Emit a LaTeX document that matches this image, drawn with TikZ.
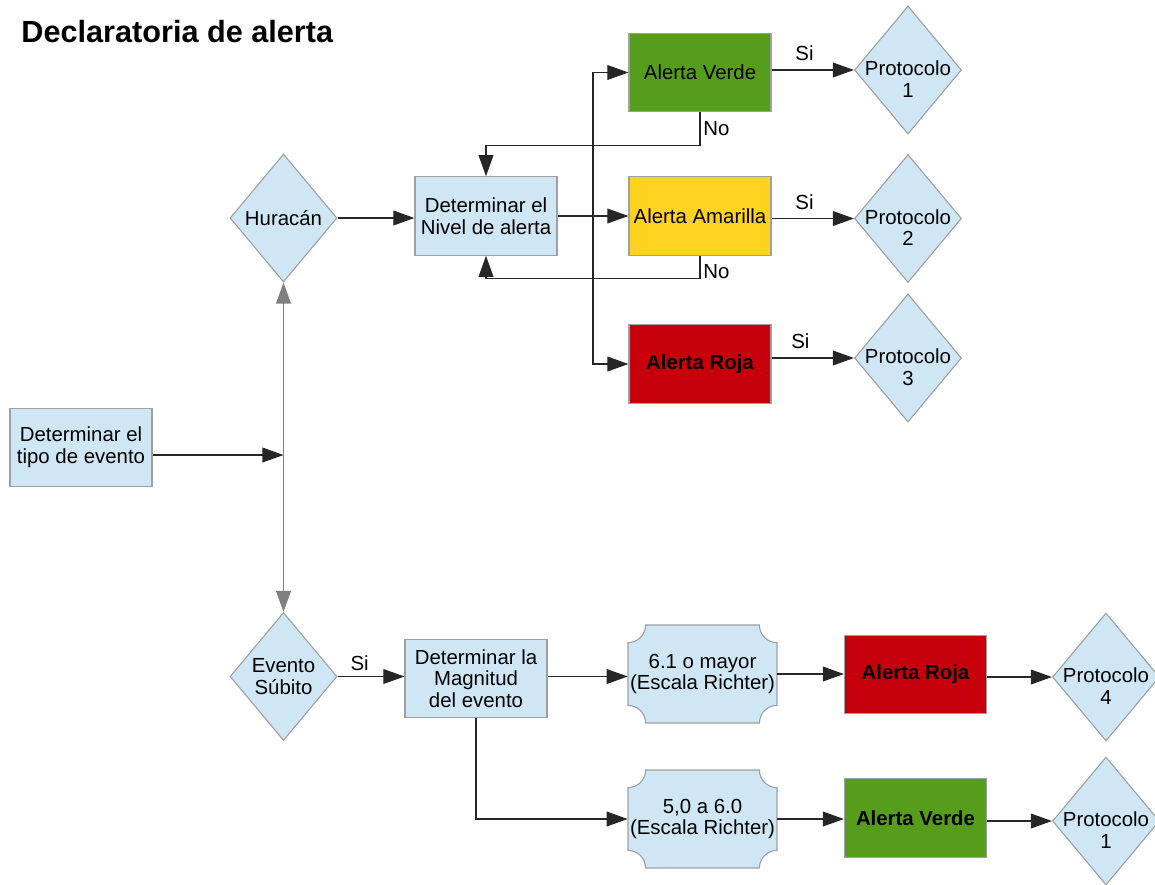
\documentclass[tikz,border=0pt]{standalone}
\usepackage{fontspec}
\setmainfont{Liberation Sans}
\usetikzlibrary{shapes.geometric,arrows.meta}
\definecolor{boxblue}{HTML}{CFE7F5}
\definecolor{edgegray}{HTML}{A0A0A0}
\definecolor{linkgray}{HTML}{808080}
\definecolor{alertgreen}{HTML}{579D1C}
\definecolor{alertyellow}{HTML}{FFD320}
\definecolor{alertred}{HTML}{C5000B}
\newcommand{\chartfont}{\fontsize{14.5}{15.4}\selectfont}
\tikzset{my box/.style={draw=edgegray, line width=0.8pt, fill=boxblue, minimum width=3.55cm, minimum height=1.96cm, align=center, inner sep=1pt},}
\tikzset{my diamond/.style={draw=edgegray, line width=0.8pt, fill=boxblue, diamond, minimum width=2.675cm, minimum height=3.2cm, inner sep=0pt},}
\tikzset{my protocol/.style={my diamond, label={[align=center, yshift=-0.23cm]center:Protocolo\\#1}},}
\tikzset{my link/.style={draw=black!85, line width=0.9pt, -{Triangle[length=15pt,width=10.5pt]}},}
\tikzset{gray link/.style={draw=linkgray, line width=1.2pt, {Triangle[length=15pt,width=10.5pt]}-{Triangle[length=15pt,width=10.5pt]}},}
\tikzset{si label/.style={above, inner sep=6pt, pos=0.4},}
\tikzset{no label/.style={right, inner sep=2pt, pos=0.5},}
\tikzset{richter text/.style={align=center, minimum width=3.725cm, minimum height=2.45cm, inner sep=0pt},}
\newcommand{\richterbox}[3]{%
  \draw [draw=edgegray, line width=0.8pt, fill=boxblue, shift={(#2)}]
    (-1.8625, 0.785) arc [start angle=270, end angle=360, radius=0.44]
    -- (1.4225, 1.225) arc [start angle=180, end angle=270, radius=0.44]
    -- (1.8625, -0.785) arc [start angle=90, end angle=180, radius=0.44]
    -- (-1.4225, -1.225) arc [start angle=0, end angle=90, radius=0.44]
    -- cycle;
  \node [richter text] (#1) at (#2) {#3};}

\begin{document}
\begin{tikzpicture}[font=\chartfont]
\useasboundingbox (0,0) rectangle (28.875,-22.1);
\node [anchor=base west, inner sep=0pt, font=\fontsize{21.8}{25}\selectfont\bfseries] (title) at (  0.530000,  -1.062500) {Declaratoria de alerta};

\node [my box] (tipo) at (  2.025000, -11.187500) {Determinar el\\tipo de evento};
\node [my diamond, label={center:Huracán}] (huracan) at (  7.087500,  -5.450000) {};
\node [my diamond, label={[align=center]center:Evento\\Súbito}] (subito) at (  7.087500, -16.912500) {};
\node [my box] (nivel) at ( 12.150000,  -5.400000) {Determinar el\\Nivel de alerta};
\node [my box, fill=alertgreen] (verde) at ( 17.500000,  -1.812500) {Alerta Verde};
\node [my box, fill=alertyellow] (amarilla) at ( 17.500000,  -5.400000) {Alerta Amarilla};
\node [my box, fill=alertred, font=\chartfont\bfseries] (roja) at ( 17.500000,  -9.100000) {Alerta Roja};
\node [my protocol=1] (p1) at ( 22.700000,  -1.750000) {};
\node [my protocol=2] (p2) at ( 22.700000,  -5.462500) {};
\node [my protocol=3] (p3) at ( 22.700000,  -8.950000) {};

\node [my box] (magnitud) at ( 11.900000, -16.962500) {Determinar la\\Magnitud\\del evento};
\richterbox{b1}{ 17.562500, -16.850000}{6.1 o mayor\\(Escala Richter)}
\richterbox{b2}{ 17.562500, -20.475000}{5,0 a 6.0\\(Escala Richter)}
\node [my box, fill=alertred, font=\chartfont\bfseries] (roja2) at ( 22.887500, -16.862500) {Alerta Roja};
\node [my box, fill=alertgreen, font=\chartfont\bfseries] (verde2) at ( 22.887500, -20.450000) {Alerta Verde};
\node [my protocol=4] (p4) at ( 27.650000, -16.925000) {};
\node [my protocol=1] (p5) at ( 27.650000, -20.525000) {};

\coordinate (hub) at (  7.087500, -11.375000);
\coordinate (split) at ( 14.825000,  -5.400000);

\draw [my link] (tipo.east |- hub) -- (hub);
\draw [gray link] (huracan.south) -- (subito.north);
\draw [my link] (huracan.east) -- (huracan.east -| nivel.west);
\draw [my link] (nivel.east) -- (amarilla.west);
\draw [my link] (split) |- (verde.west);
\draw [my link] (split) |- (roja.west);
\draw [my link] (verde.south) -- node [no label] {No} ++(0,-0.825) -| (nivel.north);
\draw [my link] (amarilla.south) -- node [no label, pos=0.7] {No} ++(0,-0.575) -| (nivel.south);
\draw [my link] (p1.west -| verde.east) -- node [si label] {Si} (p1.west);
\draw [my link] (p2.west -| amarilla.east) -- node [si label] {Si} (p2.west);
\draw [my link] (p3.west -| roja.east) -- node [si label, pos=0.35] {Si} (p3.west);

\draw [my link] (subito.east) -- node [si label, pos=0.33, inner sep=4pt] {Si} (subito.east -| magnitud.west);
\draw [my link] (magnitud.east |- subito.east) -- (b1.west |- subito.east);
\draw [my link] (magnitud.south) |- (b2.west);
\draw [my link] (b1.east) -- (b1.east -| roja2.west);
\draw [my link] (p4.west -| roja2.east) -- (p4.west);
\draw [my link] (b2.east) -- (b2.east -| verde2.west);
\draw [my link] (p5.west -| verde2.east) -- (p5.west);
\end{tikzpicture}
\end{document}
